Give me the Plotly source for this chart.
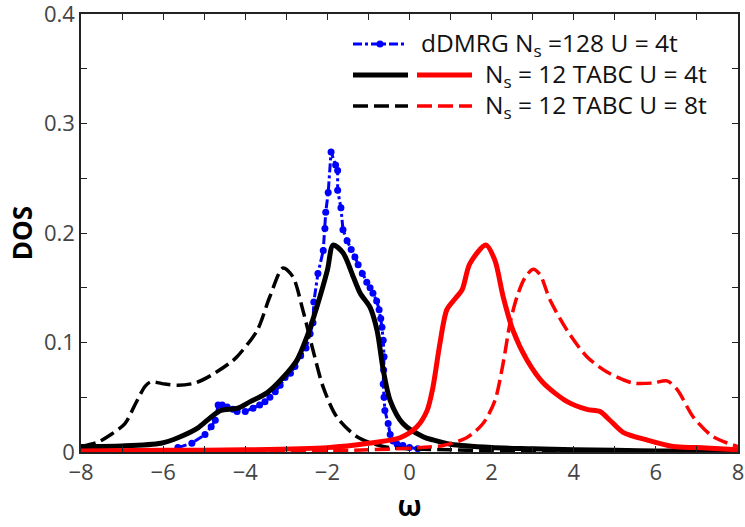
import plotly.graph_objects as go

# ---------------- data ----------------
# dDMRG Ns=128, U=4t
dmrg_x = [-5.64, -5.30, -4.98, -4.83, -4.73, -4.66, -4.56, -4.44, -4.30, -4.20,
          -4.00, -3.81, -3.65, -3.52, -3.40, -3.27, -3.15, -3.03, -2.90, -2.79,
          -2.65, -2.52, -2.42, -2.35, -2.33, -2.23, -2.10, -2.06, -2.04, -1.98,
          -1.91, -1.80, -1.75, -1.75, -1.67, -1.62, -1.52, -1.42, -1.33, -1.25,
          -1.15, -1.04, -0.96, -0.89, -0.80, -0.74, -0.70, -0.67, -0.64, -0.62,
          -0.63, -0.64, -0.62, -0.60, -0.52, -0.47, -0.40, -0.30, -0.16, 0.00, 0.20]
dmrg_y = [0.004, 0.008, 0.016, 0.023, 0.029, 0.043, 0.043, 0.041, 0.039, 0.037,
          0.037, 0.040, 0.043, 0.046, 0.050, 0.055, 0.061, 0.068, 0.072, 0.078,
          0.088, 0.095, 0.108, 0.118, 0.137, 0.163, 0.184, 0.204, 0.219, 0.237,
          0.274, 0.262, 0.257, 0.239, 0.223, 0.203, 0.193, 0.185, 0.178, 0.171,
          0.163, 0.155, 0.150, 0.145, 0.138, 0.130, 0.122, 0.114, 0.102, 0.087,
          0.075, 0.062, 0.050, 0.038, 0.026, 0.016, 0.010, 0.007, 0.006, 0.004, 0.003]

# Ns=12 TABC U=4t, hole part (black solid)
u4_neg_x = [-8.0, -7.0, -6.05, -5.64, -5.15, -4.83, -4.59, -4.18, -3.88, -3.47,
            -3.08, -2.74, -2.50, -2.26, -2.00, -1.86, -1.62, -1.37, -1.20, -0.96,
            -0.79, -0.64, -0.47, -0.16, 0.33, 0.57, 1.0, 2.0, 3.0, 4.0, 5.0, 6.0, 8.0]
u4_neg_y = [0.005, 0.0055, 0.008, 0.013, 0.022, 0.032, 0.038, 0.040, 0.046, 0.054,
            0.068, 0.084, 0.105, 0.132, 0.166, 0.189, 0.182, 0.160, 0.145, 0.132,
            0.111, 0.075, 0.047, 0.026, 0.014, 0.011, 0.007, 0.004, 0.003, 0.002,
            0.0015, 0.001, 0.001]

# Ns=12 TABC U=4t, particle part (red solid)
u4_pos_x = [-8.0, -6.0, -4.0, -2.0, -1.0, -0.23, 0.18, 0.43, 0.57, 0.74, 0.91,
            1.11, 1.28, 1.47, 1.86, 2.08, 2.28, 2.52, 2.86, 3.26, 3.84, 4.32,
            4.64, 4.88, 5.20, 5.78, 6.42, 7.0, 8.0]
u4_pos_y = [0.001, 0.0015, 0.002, 0.004, 0.008, 0.013, 0.023, 0.038, 0.059, 0.099,
            0.130, 0.140, 0.148, 0.172, 0.189, 0.175, 0.142, 0.111, 0.084, 0.063,
            0.046, 0.039, 0.037, 0.029, 0.018, 0.011, 0.005, 0.004, 0.002]

# Ns=12 TABC U=8t, hole part (black dashed)
u8_neg_x = [-8.0, -7.59, -7.27, -6.93, -6.66, -6.44, -6.30, -5.95, -5.64, -5.22,
            -4.83, -4.35, -4.20, -3.71, -3.40, -3.08, -2.84, -2.60, -2.35, -2.10,
            -1.77, -1.28, -0.64, 0.0, 1.0, 2.0, 4.0, 8.0]
u8_neg_y = [0.005, 0.009, 0.016, 0.026, 0.045, 0.060, 0.064, 0.062, 0.061, 0.063,
            0.070, 0.082, 0.087, 0.111, 0.142, 0.168, 0.160, 0.130, 0.093, 0.059,
            0.032, 0.014, 0.005, 0.003, 0.002, 0.001, 0.0005, 0.0]

# Ns=12 TABC U=8t, particle part (red dashed)
u8_pos_x = [-8.0, -4.0, -1.0, 0.26, 0.82, 1.39, 1.79, 2.08, 2.28, 2.45, 2.62,
            2.81, 3.01, 3.18, 3.42, 3.84, 4.32, 4.81, 5.44, 5.93, 6.27, 6.52,
            6.91, 7.39, 8.0]
u8_pos_y = [0.0, 0.0005, 0.002, 0.004, 0.006, 0.013, 0.026, 0.047, 0.081, 0.118,
            0.142, 0.159, 0.167, 0.162, 0.139, 0.111, 0.087, 0.073, 0.063, 0.063,
            0.065, 0.057, 0.032, 0.014, 0.005]

x_ticks = [-8, -6, -4, -2, 0, 2, 4, 6, 8]
x_tick_text = ["\u22128", "\u22126", "\u22124", "\u22122", "0", "2", "4", "6", "8"]
y_ticks = [0, 0.1, 0.2, 0.3, 0.4]
y_tick_text = ["0", "0.1", "0.2", "0.3", "0.4"]

legend_labels = ["dDMRG N<sub>s</sub> =128 U = 4t",
                 "N<sub>s</sub> = 12 TABC U = 4t",
                 "N<sub>s</sub> = 12 TABC U = 8t"]

# ---------------- figure ----------------
BLUE = "#0000ff"
RED = "#ff0000"
BLACK = "#000000"
FONT = "Open Sans"

fig = go.Figure()

fig.add_trace(go.Scatter(x=dmrg_x, y=dmrg_y, mode="lines+markers",
                         line=dict(color=BLUE, width=3, dash="dashdot"),
                         marker=dict(color=BLUE, size=7), showlegend=False))
fig.add_trace(go.Scatter(x=u8_neg_x, y=u8_neg_y, mode="lines",
                         line=dict(color=BLACK, width=3.5, dash="15px,6px", shape="spline", smoothing=0.8),
                         showlegend=False))
fig.add_trace(go.Scatter(x=u4_neg_x, y=u4_neg_y, mode="lines",
                         line=dict(color=BLACK, width=5, shape="spline", smoothing=0.8),
                         showlegend=False))
fig.add_trace(go.Scatter(x=u8_pos_x, y=u8_pos_y, mode="lines",
                         line=dict(color=RED, width=3.5, dash="15px,6px", shape="spline", smoothing=0.8),
                         showlegend=False))
fig.add_trace(go.Scatter(x=u4_pos_x, y=u4_pos_y, mode="lines",
                         line=dict(color=RED, width=5, shape="spline", smoothing=0.8),
                         showlegend=False))

# plot area in pixels
L, R, T, B = 81, 738, 14, 452
W, H = 745, 527
pw, ph = R - L, B - T


def px(xp):
    return (xp - L) / pw


def py(yp):
    return (B - yp) / ph


# hand-made legend (two line samples per entry, like the reference)
rows = [44, 75, 106]
shapes = []
annots = []
# row 1: blue dash-dot with marker
shapes.append(dict(type="line", xref="paper", yref="paper", x0=px(353), x1=px(407),
                   y0=py(rows[0]), y1=py(rows[0]),
                   line=dict(color=BLUE, width=3, dash="dashdot")))
shapes.append(dict(type="circle", xref="paper", yref="paper",
                   x0=px(376.5), x1=px(383.5), y0=py(rows[0] + 3.5), y1=py(rows[0] - 3.5),
                   fillcolor=BLUE, line=dict(color=BLUE, width=0)))
# row 2: solid black + solid red
shapes.append(dict(type="line", xref="paper", yref="paper", x0=px(353), x1=px(408),
                   y0=py(rows[1]), y1=py(rows[1]), line=dict(color=BLACK, width=5)))
shapes.append(dict(type="line", xref="paper", yref="paper", x0=px(417), x1=px(472),
                   y0=py(rows[1]), y1=py(rows[1]), line=dict(color=RED, width=5)))
# row 3: dashed black + dashed red
shapes.append(dict(type="line", xref="paper", yref="paper", x0=px(353), x1=px(408),
                   y0=py(rows[2]), y1=py(rows[2]),
                   line=dict(color=BLACK, width=3.5, dash="15px,6px")))
shapes.append(dict(type="line", xref="paper", yref="paper", x0=px(417), x1=px(472),
                   y0=py(rows[2]), y1=py(rows[2]),
                   line=dict(color=RED, width=3.5, dash="15px,6px")))

text_x = [419, 483, 483]
for lbl, xx, yy in zip(legend_labels, text_x, rows):
    annots.append(dict(text=lbl, xref="paper", yref="paper", x=px(xx), y=py(yy),
                       xanchor="left", yanchor="middle", showarrow=False,
                       font=dict(family=FONT, size=24.5, color="#111111")))

axis_common = dict(showline=True, linecolor="#222222", linewidth=1.5, mirror="allticks",
                   ticks="inside", ticklen=6, tickcolor="#222222", tickwidth=1.2,
                   showgrid=False, zeroline=False, ticklabeloverflow="allow",
                   tickfont=dict(family=FONT, size=22, color="#444444"))

fig.update_layout(
    width=W, height=H,
    margin=dict(l=L, r=W - R, t=T, b=H - B, autoexpand=False),
    paper_bgcolor="white", plot_bgcolor="white",
    shapes=shapes, annotations=annots,
    xaxis=dict(range=[-8, 8], tickvals=x_ticks, ticktext=x_tick_text,
               minor=dict(dtick=1, ticks="inside", ticklen=6, tickcolor="#222222", tickwidth=1.2),
               title=dict(text="<b>\u03c9</b>", font=dict(family=FONT, size=28, color="black"), standoff=4),
               automargin=False, **axis_common),
    yaxis=dict(range=[0, 0.4], tickvals=y_ticks, ticktext=y_tick_text,
               minor=dict(dtick=0.05, ticks="inside", ticklen=6, tickcolor="#222222", tickwidth=1.2),
               title=dict(text="<b>DOS</b>", font=dict(family=FONT, size=26, color="black"), standoff=4),
               automargin=False, **axis_common),
)

fig.write_html("out.html", config={"displayModeBar": False},
               post_script="document.body.style.margin='0px';")
